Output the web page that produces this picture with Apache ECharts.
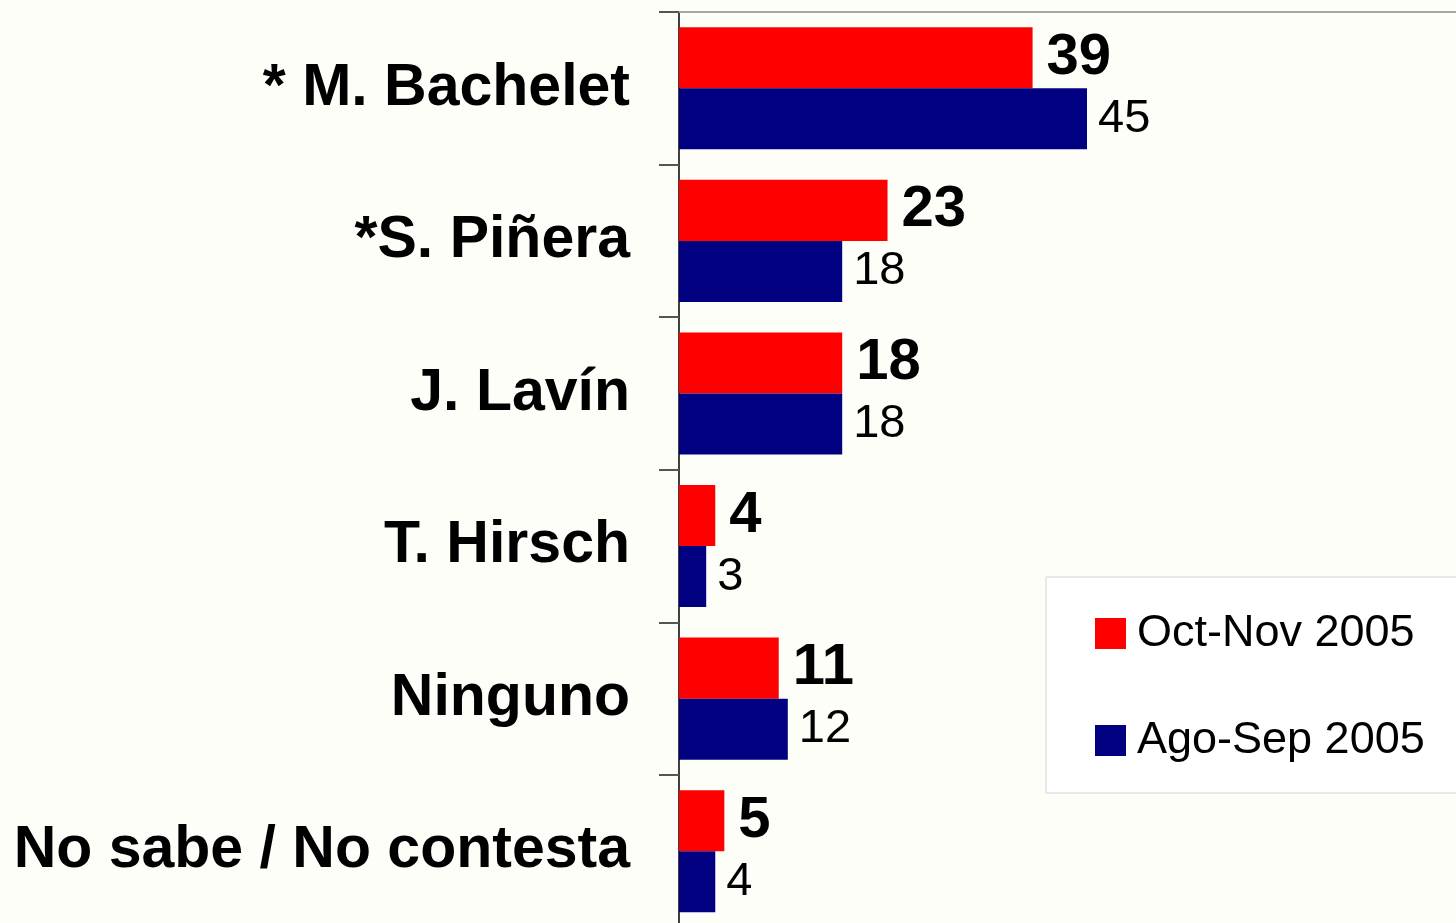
<!DOCTYPE html>
<html lang="es">
<head>
<meta charset="UTF-8">
<title>Encuesta</title>
<style>
  html, body { margin: 0; padding: 0; background: #FEFEF9; }
  #chart { width: 1456px; height: 923px; }
</style>
</head>
<body>
<div id="chart"></div>
<script src="https://cdn.jsdelivr.net/npm/echarts@6/dist/echarts.min.js"></script>
<script>
  // datos
  var categorias = ['* M. Bachelet', '*S. Piñera', 'J. Lavín', 'T. Hirsch', 'Ninguno', 'No sabe / No contesta'];
  var octNov = [39, 23, 18, 4, 11, 5];
  var agoSep = [45, 18, 18, 3, 12, 4];
  var nombres = ['Oct-Nov 2005', 'Ago-Sep 2005'];

  var fuente = '"Liberation Sans", Arial, sans-serif';
  var chart = echarts.init(document.getElementById('chart'));

  var option = {
    backgroundColor: '#FEFEF9',
    animation: false,
    grid: { left: 679, top: 12, width: 816, bottom: -4.5, outerBoundsMode: 'none' },
    legend: {
      orient: 'vertical',
      left: 1046,
      top: 577,
      icon: 'rect',
      itemWidth: 31,
      itemHeight: 31,
      itemGap: 62,
      padding: [34, 120, 30, 49],
      backgroundColor: '#FFFFFF',
      borderColor: '#D4D4D4',
      borderWidth: 1,
      textStyle: { fontFamily: fuente, fontSize: 45, color: '#000', padding: [0, 0, 0, 6] },
      data: nombres
    },
    xAxis: {
      type: 'value',
      position: 'top',
      min: 0,
      max: 90,
      axisLine: { show: true, lineStyle: { color: '#A6A6A6', width: 2 } },
      axisTick: { show: false },
      axisLabel: { show: false },
      splitLine: { show: false }
    },
    yAxis: {
      type: 'category',
      inverse: true,
      data: categorias,
      axisLine: { show: true, lineStyle: { color: '#404040', width: 2 } },
      axisTick: { show: true, length: 20, lineStyle: { color: '#555', width: 2 } },
      axisLabel: { margin: 49, fontFamily: fuente, fontSize: 59, fontWeight: 'bold', color: '#000' }
    },
    series: [
      {
        name: nombres[0],
        type: 'bar',
        data: octNov,
        barGap: '0%',
        barCategoryGap: '20%',
        itemStyle: { color: '#FF0000' },
        label: { show: true, position: 'right', distance: 14, fontFamily: fuente, fontSize: 58, fontWeight: 'bold', color: '#000' }
      },
      {
        name: nombres[1],
        type: 'bar',
        data: agoSep,
        barGap: '0%',
        barCategoryGap: '20%',
        itemStyle: { color: '#000080' },
        label: { show: true, position: 'right', distance: 11, fontFamily: fuente, fontSize: 47, color: '#000' }
      }
    ]
  };
  chart.setOption(option);
</script>
</body>
</html>
